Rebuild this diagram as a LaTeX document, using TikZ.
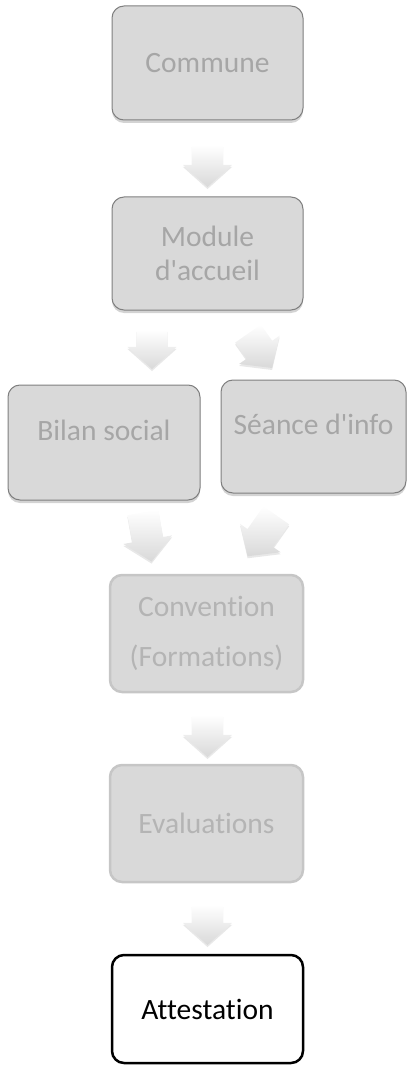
\documentclass[tikz,border=0pt]{standalone}
\usepackage{fontspec}
\setmainfont[Ligatures=NoCommon]{Carlito}
\usetikzlibrary{shapes.arrows,shadows}

\definecolor{boxfill}{HTML}{D9D9D9}
\definecolor{boxline}{HTML}{7F7F7F}
\definecolor{boxtext}{HTML}{A6A6A6}
\definecolor{paleline}{HTML}{C6C6C6}
\definecolor{paletext}{HTML}{B4B4B4}

\tikzset{
  stepbox/.style={draw=boxline, line width=1pt, fill=boxfill, rounded corners=12pt,
    text=boxtext, align=center, inner sep=0pt,
    font=\fontsize{29.5}{34}\selectfont,
    drop shadow={shadow xshift=0pt, shadow yshift=-3pt, opacity=.35}},
  palebox/.style={draw=paleline, line width=2.5pt, fill=boxfill, rounded corners=12pt,
    text=paletext, align=center, inner sep=0pt,
    font=\fontsize{29.5}{34}\selectfont},
  lastbox/.style={draw=black, line width=2.5pt, fill=white, rounded corners=12pt,
    text=black, align=center, inner sep=0pt,
    font=\fontsize{29.5}{34}\selectfont},
  blockarrow/.style={shape=single arrow, single arrow head extend=9pt,
    single arrow tip angle=96, single arrow head indent=0pt,
    inner xsep=0pt, inner ysep=15.5pt, minimum height=42pt,
    top color=white, bottom color=black!15, draw=none,
    drop shadow={shadow xshift=0pt, shadow yshift=-2pt, opacity=.18}}
}

\begin{document}
\begin{tikzpicture}[x=1pt,y=1pt]
    \useasboundingbox (0,0) rectangle (407,-1067);
    %\draw[very thin,color=gray] (0,0) grid[step=50] (407,-1067);
    \node[stepbox, minimum width=191pt, minimum height=114pt] (commune) at (207.5,-63) {Commune};
    \node[stepbox, minimum width=191pt, minimum height=113pt] (module) at (207.5,-253.5) {Module\\d\textquotesingle accueil};
    \node[stepbox, minimum width=192pt, minimum height=115pt, text depth=25pt] (bilan) at (104,-442.5) {Bilan social};
    \node[stepbox, minimum width=185pt, minimum height=113pt, text depth=25pt] (seance) at (313.5,-436.5) {S\'eance d\textquotesingle info};
    \node[palebox, minimum width=193pt, minimum height=117pt] (convention) at (206.5,-633.5) {Convention\\[16pt](Formations)};
    \node[palebox, minimum width=193pt, minimum height=117pt] (evaluations) at (206.5,-823.5) {Evaluations};
    \node[lastbox, minimum width=191pt, minimum height=108pt] (attestation) at (207.5,-1009) {Attestation};

    % block arrows between the steps
    \node[blockarrow, rotate=-90] (a1) at (207.5,-159) {};
    \node[blockarrow, rotate=-90, minimum height=39pt] (a2) at (152,-342.5) {};
    \node[blockarrow, rotate=-55] (a3) at (256,-345) {};
    \node[blockarrow, rotate=-80, minimum height=50pt] (a4) at (146,-530) {};
    \node[blockarrow, rotate=-125, minimum height=50pt] (a5) at (266,-530) {};
    \node[blockarrow, rotate=-90] (a6) at (207.5,-729) {};
    \node[blockarrow, rotate=-90, minimum height=40pt] (a7) at (207.5,-918) {};
\end{tikzpicture}
\end{document}
